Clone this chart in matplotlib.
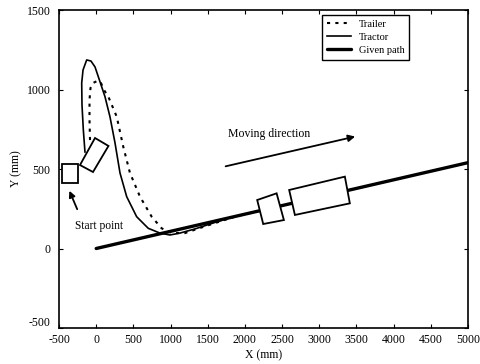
import numpy as np
import matplotlib
matplotlib.use("Agg")
import matplotlib.pyplot as plt
from matplotlib.patches import Polygon
from matplotlib.transforms import ScaledTranslation

plt.rcParams['font.family'] = ['Liberation Serif', 'DejaVu Serif']
plt.rcParams['axes.unicode_minus'] = False

# given path (straight line)
path_x = [0, 5000]
path_y = [0, 540]

# tractor trajectory (mm)
tractor_x = [-151, -173, -191, -195, -177, -128, -70, -16, 28, 118, 185, 253,
             320, 410, 544, 700, 857, 992, 1126, 1328, 1530, 1800, 2200]
tractor_y = [607, 745, 903, 1041, 1123, 1186, 1179, 1142, 1081, 955, 829, 664,
             475, 326, 200, 127, 97, 85, 97, 123, 154, 194, 238]

# trailer trajectory (mm)
trailer_x = [-83, -90, -90, -77, -43, 20, 64, 105, 163, 276, 364, 454,
             589, 746, 880, 1019, 1194, 1395, 1597, 1900, 2300]
trailer_y = [682, 808, 934, 1009, 1041, 1055, 1041, 997, 955, 829, 640, 475,
             326, 200, 127, 97, 97, 129, 160, 205, 248]

# vehicle outlines (corners, mm)
start_box = [(-460, 531), (-250, 531), (-250, 412), (-460, 412)]
tilted_box = [(-218, 525), (-16, 695), (165, 645), (-43, 481)]
end_small = [(2165, 305), (2426, 347), (2524, 179), (2246, 154)]
end_large = [(2595, 368), (3344, 452), (3411, 284), (2672, 211)]

fig = plt.figure(figsize=(4.81, 3.64), dpi=100)
ax = fig.add_axes([0.1227, 0.0989, 0.8503, 0.8736])

ax.plot(trailer_x, trailer_y, color='black', lw=1.5, linestyle=(0, (1.5, 2.5)),
        label='Trailer')
ax.plot(tractor_x, tractor_y, color='black', lw=1.2, label='Tractor')
ax.plot(path_x, path_y, color='black', lw=2.4, solid_capstyle='round',
        label='Given path')

for box in [start_box, tilted_box, end_small, end_large]:
    ax.add_patch(Polygon(box, closed=True, facecolor='white',
                         edgecolor='black', lw=1.3, zorder=3))

ax.annotate('', xy=(-375, 379), xytext=(-241, 231),
            arrowprops=dict(arrowstyle='-|>', color='black', lw=1.3,
                            mutation_scale=9))
ax.text(44, 141, 'Start point', fontsize=8.3, ha='center', va='center')

ax.annotate('', xy=(3519, 708), xytext=(1704, 513),
            arrowprops=dict(arrowstyle='-|>', color='black', lw=1.3,
                            mutation_scale=10))
ax.text(2329, 720, 'Moving direction', fontsize=8.5, ha='center', va='center')

ax.set_xlim(-500, 5000)
ax.set_ylim(-500, 1500)
ax.set_xticks(np.arange(-500, 5001, 500))
ax.set_yticks(np.arange(-500, 1501, 500))
ax.tick_params(direction='in', top=True, right=True, labelsize=8.5, length=3)
ax.tick_params(axis='x', pad=4)
ax.tick_params(axis='y', pad=6)
for s in ax.spines.values():
    s.set_linewidth(1.2)
ax.set_xlabel('X (mm)', fontsize=8.5, labelpad=3)
ax.set_ylabel('Y (mm)', fontsize=8.5, labelpad=3)

# bottom y label sits a bit higher, as in the original
fig.canvas.draw()
lab = ax.get_yticklabels()[0]
lab.set_transform(lab.get_transform() + ScaledTranslation(0, 5 / 72, fig.dpi_scale_trans))

leg = ax.legend(loc='upper left', bbox_to_anchor=(0.643, 0.984), fontsize=7.5,
                handlelength=2.3, handletextpad=0.8, borderpad=0.45,
                labelspacing=0.35, borderaxespad=0, fancybox=False,
                framealpha=1, edgecolor='black')
leg.get_frame().set_linewidth(1.0)

fig.savefig('out.png', dpi=100)
